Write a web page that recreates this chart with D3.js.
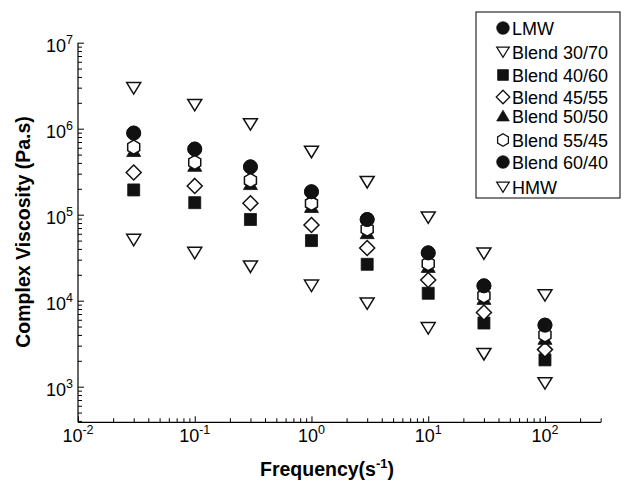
<!DOCTYPE html>
<html>
<head>
<meta charset="utf-8">
<script src="https://cdn.jsdelivr.net/npm/d3@7"></script>
<style>
  html, body { margin: 0; padding: 0; background: #fff; }
  svg { display: block; font-family: "Liberation Sans", Arial, sans-serif; }
</style>
</head>
<body>
<div id="chart"></div>
<script>
// Frequency (s^-1) sampled for every series
const freq = [0.03, 0.1, 0.3, 1, 3, 10, 30, 100];

// Complex viscosity (Pa.s)
const lmw       = [8.9e5, 5.8e5, 3.6e5, 1.85e5, 8.8e4, 3.6e4, 1.49e4, 5.2e3];
const blend3070 = [5.1e4, 3.6e4, 2.5e4, 1.5e4, 9.3e3, 4.8e3, 2.4e3, 1.1e3];
const blend4060 = [1.94e5, 1.38e5, 8.8e4, 5.0e4, 2.65e4, 1.22e4, 5.5e3, 2.05e3];
const blend4555 = [3.1e5, 2.16e5, 1.36e5, 7.6e4, 4.1e4, 1.74e4, 7.3e3, 2.7e3];
const blend5050 = [5.5e5, 3.7e5, 2.27e5, 1.23e5, 6.1e4, 2.47e4, 1.05e4, 3.6e3];
const blend5545 = [6.1e5, 4.06e5, 2.5e5, 1.35e5, 6.8e4, 2.7e4, 1.14e4, 4.0e3];
const blend6040 = [8.9e5, 5.8e5, 3.6e5, 1.85e5, 8.8e4, 3.6e4, 1.49e4, 5.2e3];
const hmw       = [2.97e6, 1.89e6, 1.13e6, 5.4e5, 2.4e5, 9.3e4, 3.55e4, 1.16e4];

const xTickExps = [-2, -1, 0, 1, 2];
const yTickExps = [3, 4, 5, 6, 7];

// marker shapes (paths centred on 0,0)
const shapes = {
    circle: 'M7,0A7,7 0 1,1 -7,0A7,7 0 1,1 7,0Z',
    triDown: 'M-7,-5.5L7,-5.5L0,6Z',
    triUp: 'M-7,5.5L7,5.5L0,-6.5Z',
    square: 'M-6,-6L6,-6L6,6L-6,6Z',
    diamond: 'M0,-7.5L7.5,0L0,7.5L-7.5,0Z',
    hexagon: 'M0,-7L6,-3.5L6,3.5L0,7L-6,3.5L-6,-3.5Z'
};

const legendSeries = [
    { label: 'LMW', values: lmw, shape: 'circle', filled: true },
    { label: 'Blend 30/70', values: blend3070, shape: 'triDown', filled: false },
    { label: 'Blend 40/60', values: blend4060, shape: 'square', filled: true },
    { label: 'Blend 45/55', values: blend4555, shape: 'diamond', filled: false },
    { label: 'Blend 50/50', values: blend5050, shape: 'triUp', filled: true },
    { label: 'Blend 55/45', values: blend5545, shape: 'hexagon', filled: false },
    { label: 'Blend 60/40', values: blend6040, shape: 'circle', filled: true },
    { label: 'HMW', values: hmw, shape: 'triDown', filled: false }
];
// draw order so overlaps look like the original
const drawOrder = [1, 7, 2, 3, 4, 5, 0, 6];

const W = 627, H = 483;
const margin = { top: 42.7, right: 26, bottom: 60.7, left: 78 };
const width = W - margin.left - margin.right;
const height = H - margin.top - margin.bottom;

const svg = d3.select('#chart').append('svg')
    .attr('width', W)
    .attr('height', H);

const g = svg.append('g')
    .attr('transform', `translate(${margin.left},${margin.top})`);

const x = d3.scaleLog().domain([0.01, Math.pow(10, 2.48)]).range([0, width]);
const y = d3.scaleLog().domain([Math.pow(10, 2.586), 1e7]).range([height, 0]);

// minor ticks
function minorTicks(lo, hi) {
    const out = [];
    for (let e = Math.floor(Math.log10(lo)); e <= Math.ceil(Math.log10(hi)); e++) {
        for (let m = 2; m <= 9; m++) {
            const v = m * Math.pow(10, e);
            if (v >= lo && v <= hi) out.push(v);
        }
    }
    return out;
}

// X axis (ticks pointing inward)
g.append('g')
    .attr('transform', `translate(0,${height})`)
    .call(d3.axisBottom(x).tickValues(minorTicks(...x.domain())).tickSize(-4).tickFormat(''))
    .call(a => a.select('.domain').remove())
    .selectAll('line').attr('stroke', '#000');

g.append('g')
    .attr('transform', `translate(0,${height})`)
    .call(d3.axisBottom(x).tickValues(xTickExps.map(e => Math.pow(10, e))).tickSize(-6).tickFormat(''))
    .call(a => a.select('.domain').remove())
    .selectAll('line').attr('stroke', '#000');

// Y axis
g.append('g')
    .call(d3.axisLeft(y).tickValues(minorTicks(...y.domain())).tickSize(-4).tickFormat(''))
    .call(a => a.select('.domain').remove())
    .selectAll('line').attr('stroke', '#000');

g.append('g')
    .call(d3.axisLeft(y).tickValues(yTickExps.map(e => Math.pow(10, e))).tickSize(-6).tickFormat(''))
    .call(a => a.select('.domain').remove())
    .selectAll('line').attr('stroke', '#000');

// axis lines (left and bottom only)
g.append('line')
    .attr('x1', 0).attr('x2', 0).attr('y1', 0).attr('y2', height)
    .attr('stroke', '#000').attr('stroke-width', 1.2);
g.append('line')
    .attr('x1', 0).attr('x2', width).attr('y1', height).attr('y2', height)
    .attr('stroke', '#000').attr('stroke-width', 1.2);

// X tick labels with superscripts
xTickExps.forEach(e => {
    const t = g.append('text')
        .attr('x', x(Math.pow(10, e)))
        .attr('y', height + 20)
        .attr('text-anchor', 'middle')
        .style('font-size', '18px')
        .style('fill', '#000');
    t.append('tspan').text('10');
    t.append('tspan').attr('dy', -8).style('font-size', '12.5px').text(e);
});

// Y tick labels
yTickExps.forEach(e => {
    const t = g.append('text')
        .attr('x', -5)
        .attr('y', y(Math.pow(10, e)) + 9)
        .attr('text-anchor', 'end')
        .style('font-size', '18px')
        .style('fill', '#000');
    t.append('tspan').text('10');
    t.append('tspan').attr('dy', -8).style('font-size', '12.5px').text(e);
});

// Axis titles
const xt = svg.append('text')
    .attr('x', 327)
    .attr('y', 476)
    .attr('text-anchor', 'middle')
    .style('font-size', '19.5px')
    .style('font-weight', 'bold');
xt.append('tspan').text('Frequency(s');
xt.append('tspan').attr('dy', -8).style('font-size', '13px').text('-1');
xt.append('tspan').attr('dy', 8).text(')');

svg.append('text')
    .attr('transform', 'translate(30,232) rotate(-90)')
    .attr('text-anchor', 'middle')
    .style('font-size', '19.5px')
    .style('font-weight', 'bold')
    .text('Complex Viscosity (Pa.s)');

// Data markers
drawOrder.forEach(i => {
    const s = legendSeries[i];
    g.selectAll(null)
        .data(freq.map((f, j) => ({ f, v: s.values[j] })))
        .enter()
        .append('path')
        .attr('d', shapes[s.shape])
        .attr('transform', d => `translate(${x(d.f)},${y(d.v)})`)
        .attr('fill', s.filled ? '#111' : '#fff')
        .attr('stroke', '#111')
        .attr('stroke-width', s.filled ? 0.8 : 1.5);
});

// Legend
const legend = svg.append('g').attr('transform', 'translate(476,12)');
legend.append('rect')
    .attr('width', 144).attr('height', 186)
    .attr('fill', '#fff').attr('stroke', '#000').attr('stroke-width', 1);

const legendY = [16, 40, 63, 85, 104, 128, 150, 175];
legendSeries.forEach((s, i) => {
    const row = legend.append('g').attr('transform', `translate(27,${legendY[i]})`);
    row.append('path')
        .attr('d', shapes[s.shape])
        .attr('transform', 'scale(0.9)')
        .attr('fill', s.filled ? '#111' : '#fff')
        .attr('stroke', '#111')
        .attr('stroke-width', s.filled ? 0.8 : 1.4);
    row.append('text')
        .attr('x', 9)
        .attr('y', 6.5)
        .style('font-size', '18px')
        .style('fill', '#000')
        .text(s.label);
});
</script>
</body>
</html>
